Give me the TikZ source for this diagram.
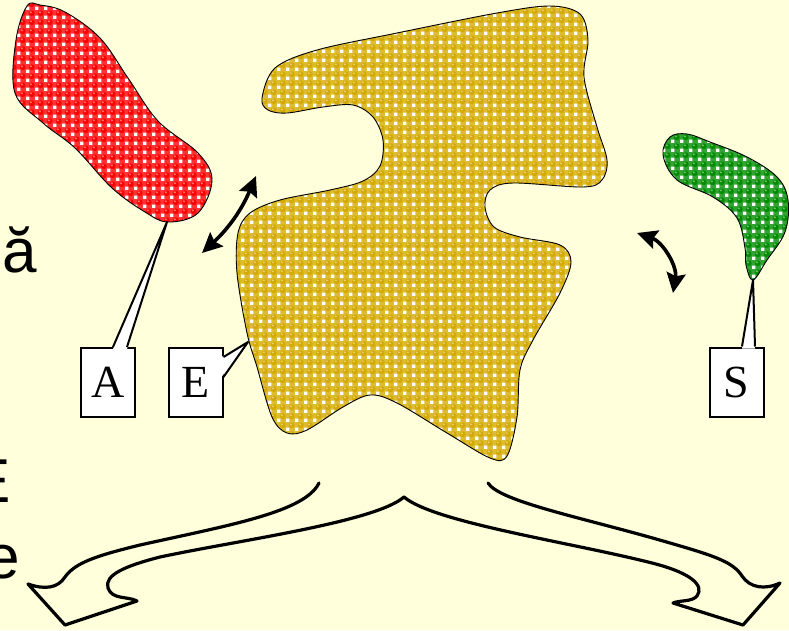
\documentclass[tikz,border=0pt]{standalone}
\usepackage{fontspec}
\setmainfont{Liberation Serif}
\newfontfamily\textsans{Liberation Sans}
\usepackage{xcolor}
\usetikzlibrary{arrows.meta, patterns}

\definecolor{paper}{RGB}{255,255,220}
\definecolor{gold}{RGB}{212,170,0}
\definecolor{leaf}{RGB}{0,140,0}

\pgfdeclarepatternformonly{ballgap}{\pgfqpoint{0pt}{0pt}}{\pgfqpoint{8.6pt}{8.6pt}}{\pgfqpoint{8.6pt}{8.6pt}}{%
  \pgfpathrectangle{\pgfqpoint{0pt}{0pt}}{\pgfqpoint{3.4pt}{3.4pt}}\pgfusepath{fill}}
\pgfdeclarepatternformonly{balldot}{\pgfqpoint{0pt}{0pt}}{\pgfqpoint{8.6pt}{8.6pt}}{\pgfqpoint{8.6pt}{8.6pt}}{%
  \pgfpathcircle{\pgfqpoint{6.0pt}{6.0pt}}{3.0pt}\pgfusepath{fill}}
\pgfdeclarepatternformonly{ballshine}{\pgfqpoint{0pt}{0pt}}{\pgfqpoint{8.6pt}{8.6pt}}{\pgfqpoint{8.6pt}{8.6pt}}{%
  \pgfpathcircle{\pgfqpoint{5.1pt}{7.0pt}}{1.2pt}\pgfusepath{fill}}

\begin{document}
\begin{tikzpicture}[x=1pt, y=-1pt,
    blob/.style={fill=#1!80!white, postaction={pattern=ballgap, pattern color=white},
      postaction={pattern=balldot, pattern color=#1},
      postaction={pattern=ballshine, pattern color=white!45!#1},
      postaction={draw=black, line width=0.9pt}},
    label/.style={draw, line width=2pt, fill=white, minimum width=54pt, minimum height=69pt,
      inner sep=0pt, font=\fontsize{46}{50}\selectfont},
    tail/.style={line width=2pt, line join=round},
    exchange/.style={<->, line width=3.6pt},
    >={Stealth[length=20pt, width=19pt, inset=3pt]},
    cut/.style={anchor=base east, inner sep=0pt, font=\textsans\fontsize{62}{70}\selectfont}]
  \useasboundingbox (0,0) rectangle (789,630);
  \fill[paper] (0,0) rectangle (789,630);

  % text cut by the left border
  \node[cut] (word1) at (37,272) {ă};
  \node[cut] (word2) at (11,502) {E};
  \node[cut] (word3) at (20,578) {e};

  % the three regions
  \path[blob=red] plot[smooth cycle, tension=0.6] coordinates {(27,6) (16,40) (15,93) (43,123)
    (75,148) (112,188) (145,212) (168,222) (198,213) (212,180) (198,153) (158,121) (128,78)
    (100,38) (65,12) (40,5)};
  \path[blob=gold] plot[smooth cycle, tension=0.55] coordinates {(262,98) (275,68) (317,50)
    (397,33) (497,13) (550,6) (580,14) (588,40) (584,77) (597,127) (607,160) (602,180) (583,187)
    (513,183) (490,190) (485,207) (494,227) (520,237) (560,245) (571,262) (560,293) (533,340)
    (520,370) (517,417) (507,456) (490,458) (447,433) (397,403) (370,395) (343,407) (307,430)
    (287,433) (272,417) (257,367) (247,333) (237,273) (238,233) (250,213) (280,200) (330,190)
    (363,181) (380,166) (383,140) (373,117) (353,105) (323,107) (287,113) (268,110)};
  \path[blob=leaf] plot[smooth cycle, tension=0.6] coordinates {(670,137) (663,155) (677,180)
    (713,197) (737,218) (745,248) (746,265) (753,280) (767,260) (785,232) (788,200) (777,177)
    (747,157) (710,142) (687,134)};

  % labels
  \coordinate (atip) at (167,222);
  \coordinate (etip) at (248,342);
  \coordinate (stip) at (753,280);
  \node[label] (boxA) at (108,382.5) {A};
  \node[label] (boxE) at (195.5,382.5) {E};
  \node[label] (boxS) at (736.5,382) {S};
  \fill[white] ([xshift=5pt, yshift=-2pt]boxA.north) -- (atip) -- ([xshift=19pt, yshift=-2pt]boxA.north) -- cycle;
  \draw[tail] ([xshift=5pt]boxA.north) -- (atip) -- ([xshift=19pt]boxA.north);
  \fill[white] ([xshift=-2pt, yshift=25.5pt]boxE.east) -- (etip) -- ([xshift=-2pt, yshift=5.5pt]boxE.east) -- cycle;
  \draw[tail] ([yshift=25.5pt]boxE.east) -- (etip) -- ([yshift=5.5pt]boxE.east);
  \fill[white] ([xshift=5.5pt, yshift=-2pt]boxS.north) -- (stip) -- ([xshift=18.5pt, yshift=-2pt]boxS.north) -- cycle;
  \draw[tail] ([xshift=5.5pt]boxS.north) -- (stip) -- ([xshift=18.5pt]boxS.north);

  % exchanges
  \coordinate (ea1) at (202,253);
  \coordinate (ea2) at (256,176);
  \coordinate (se1) at (637,233);
  \coordinate (se2) at (673,293);
  \draw[exchange] (ea1) to[bend right=12] (ea2);
  \draw[exchange] (se1) to[bend left=40] (se2);

  % split arrow below
  \draw[line width=3.2pt, line join=round, line cap=round]
    (319,483) .. controls (305,512) and (230,525) .. (140,545)
    .. controls (95,556) and (75,563) .. (65,577)
    .. controls (58,588) and (45,590) .. (28,584) -- (65,625) -- (137,601)
    .. controls (128,596) and (112,600) .. (108,588)
    .. controls (104,575) and (125,566) .. (160,557)
    .. controls (240,540) and (375,522) .. (404,497)
    .. controls (433,522) and (568,542) .. (648,562)
    .. controls (690,572) and (705,585) .. (697,596)
    .. controls (692,602) and (680,600) .. (673,603) -- (743,625) -- (780,583)
    .. controls (765,590) and (750,588) .. (742,576)
    .. controls (733,562) and (715,556) .. (670,543)
    .. controls (585,518) and (500,502) .. (488,483);
\end{tikzpicture}
\end{document}
